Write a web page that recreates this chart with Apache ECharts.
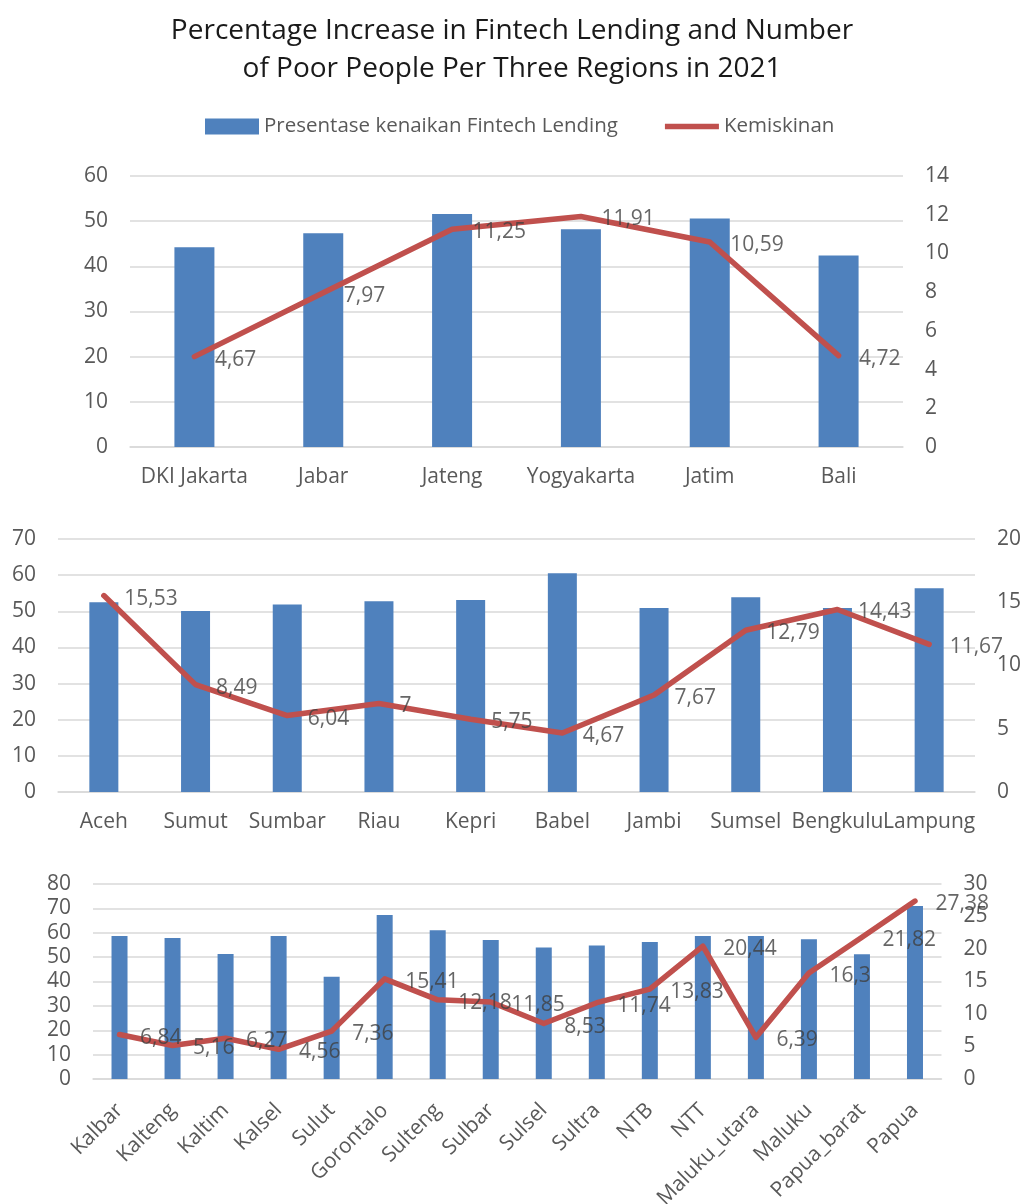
<!DOCTYPE html>
<html>
<head>
<meta charset="utf-8">
<title>Fintech Lending and Poverty 2021</title>
<script src="https://cdn.jsdelivr.net/npm/echarts@6/dist/echarts.min.js"></script>
<style>
  html, body { margin: 0; padding: 0; background: #ffffff; }
  #chart { width: 1024px; height: 1204px; }
</style>
</head>
<body>
<div id="chart"></div>
<script>
// Region groups
const regionsA = ['DKI Jakarta', 'Jabar', 'Jateng', 'Yogyakarta', 'Jatim', 'Bali'];
const regionsB = ['Aceh', 'Sumut', 'Sumbar', 'Riau', 'Kepri', 'Babel', 'Jambi', 'Sumsel', 'Bengkulu', 'Lampung'];
const regionsC = ['Kalbar', 'Kalteng', 'Kaltim', 'Kalsel', 'Sulut', 'Gorontalo', 'Sulteng', 'Sulbar',
  'Sulsel', 'Sultra', 'NTB', 'NTT', 'Maluku_utara', 'Maluku', 'Papua_barat', 'Papua'];

// Percentage increase in fintech lending (left axis)
const lendingA = [44.2, 47.3, 51.6, 48.2, 50.6, 42.4];
const lendingB = [52.5, 50.1, 51.9, 52.8, 53.1, 60.5, 50.9, 53.9, 50.9, 56.4];
const lendingC = [58.7, 57.8, 51.3, 58.7, 42.0, 67.3, 61.0, 57.0, 54.0, 54.8, 56.2, 58.7, 58.7, 57.3, 51.2, 71.0];

// Poverty rate (right axis)
const povertyA = [4.67, 7.97, 11.25, 11.91, 10.59, 4.72];
const povertyB = [15.53, 8.49, 6.04, 7, 5.75, 4.67, 7.67, 12.79, 14.43, 11.67];
const povertyC = [6.84, 5.16, 6.27, 4.56, 7.36, 15.41, 12.18, 11.85, 8.53, 11.74, 13.83, 20.44, 6.39, 16.3, 21.82, 27.38];

// Axis ranges: [leftMax, leftStep, rightMax, rightStep]
const axisA = [60, 10, 14, 2];
const axisB = [70, 10, 20, 5];
const axisC = [80, 10, 30, 5];

const BAR_NAME = 'Presentase kenaikan Fintech Lending';
const LINE_NAME = 'Kemiskinan';
const BLUE = '#4F81BD';
const RED = '#C0504D';
const FONT = 'Open Sans';
const TICK = '#595959';
const GRID_LINE = '#D9D9D9';
const FS = 21;

const chart = echarts.init(document.getElementById('chart'), null, { renderer: 'canvas' });

const grids = [
  { left: 130, right: 121, top: 176, height: 271, outerBoundsMode: 'none' },
  { left: 58, right: 49, top: 539, height: 253, outerBoundsMode: 'none' },
  { left: 93, right: 82.5, top: 884, height: 195, outerBoundsMode: 'none' }
];
const cats = [regionsA, regionsB, regionsC];
const bars = [lendingA, lendingB, lendingC];
const lines = [povertyA, povertyB, povertyC];
const ranges = [axisA, axisB, axisC];
const barWidths = [40, 29, 16];

const xAxis = cats.map((c, i) => ({
  type: 'category',
  gridIndex: i,
  data: c,
  axisTick: { show: false },
  axisLine: { show: true, lineStyle: { color: GRID_LINE, width: 1.5 } },
  axisLabel: {
    interval: 0,
    color: TICK,
    fontFamily: FONT,
    fontSize: FS,
    margin: i === 2 ? 28 : 20,
    rotate: i === 2 ? 45 : 0
  }
}));

const yAxis = [];
ranges.forEach((r, i) => {
  yAxis.push({
    type: 'value', gridIndex: i, position: 'left',
    min: 0, max: r[0], interval: r[1],
    axisLine: { show: false }, axisTick: { show: false },
    axisLabel: { color: TICK, fontFamily: FONT, fontSize: FS, margin: 22 },
    splitLine: { show: true, lineStyle: { color: GRID_LINE, width: 1.5 } }
  });
  yAxis.push({
    type: 'value', gridIndex: i, position: 'right',
    min: 0, max: r[2], interval: r[3],
    axisLine: { show: false }, axisTick: { show: false },
    axisLabel: { color: TICK, fontFamily: FONT, fontSize: FS, margin: 22 },
    splitLine: { show: false }
  });
});

const series = [];
bars.forEach((vals, i) => {
  series.push({
    name: BAR_NAME, type: 'bar',
    xAxisIndex: i, yAxisIndex: i * 2,
    data: vals, barWidth: barWidths[i],
    itemStyle: { color: BLUE }
  });
});
// Poverty lines
lines.forEach((vals, i) => {
  series.push({
    name: LINE_NAME, type: 'line',
    xAxisIndex: i, yAxisIndex: i * 2 + 1,
    data: vals,
    symbol: 'none',
    lineStyle: { color: RED, width: 5.5, cap: 'round', join: 'round' },
    itemStyle: { color: RED },
    z: 3
  });
});
// Value labels for the poverty points
lines.forEach((vals, i) => {
  series.push({
    name: LINE_NAME, type: 'scatter',
    xAxisIndex: i, yAxisIndex: i * 2 + 1,
    data: vals,
    symbolSize: 1,
    itemStyle: { color: 'rgba(0,0,0,0)' },
    label: {
      show: true, position: 'right', distance: 20, offset: [0, 3],
      color: '#404040', fontFamily: FONT, fontSize: FS,
      formatter: p => String(p.value).replace('.', ',')
    },
    silent: true,
    z: 4
  });
});

chart.setOption({
  animation: false,
  backgroundColor: '#ffffff',
  title: {
    text: 'Percentage Increase in Fintech Lending and Number\nof Poor People Per Three Regions in 2021',
    left: 'center', top: 7,
    textStyle: { color: '#1a1a1a', fontFamily: FONT, fontSize: 28, fontWeight: 'normal', lineHeight: 38 }
  },
  legend: {
    top: 111, left: 200,
    itemWidth: 54, itemHeight: 16, itemGap: 47,
    symbolKeepAspect: true,
    textStyle: { color: TICK, fontFamily: FONT, fontSize: 20.5 },
    data: [
      { name: BAR_NAME, icon: 'rect', itemStyle: { color: BLUE } },
      { name: LINE_NAME, icon: 'path://M0,0 L54,0 L54,5.5 L0,5.5 Z', itemStyle: { color: RED } }
    ]
  },
  grid: grids,
  xAxis: xAxis,
  yAxis: yAxis,
  series: series
});
</script>
</body>
</html>
